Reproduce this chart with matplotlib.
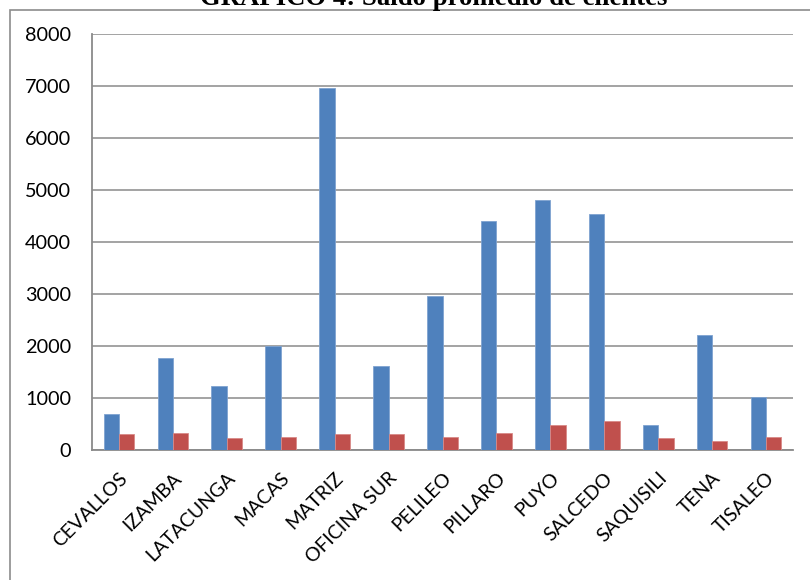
import matplotlib
matplotlib.use("Agg")
import matplotlib.pyplot as plt
import matplotlib.transforms as mtransforms
import numpy as np
from matplotlib.patches import Rectangle

categories = ["CEVALLOS", "IZAMBA", "LATACUNGA", "MACAS", "MATRIZ", "OFICINA SUR",
              "PELILEO", "PILLARO", "PUYO", "SALCEDO", "SAQUISILI", "TENA", "TISALEO"]
serie_1 = [690, 1770, 1230, 2000, 6955, 1615, 2960, 4400, 4800, 4530, 480, 2215, 1020]
serie_2 = [300, 335, 230, 245, 315, 315, 245, 325, 475, 560, 230, 180, 250]
y_ticks = [0, 1000, 2000, 3000, 4000, 5000, 6000, 7000, 8000]

W, H = 810, 580
fig = plt.figure(figsize=(W / 100, H / 100), dpi=100)
fig.patch.set_facecolor("white")

# chart frame
fig.patches.append(Rectangle((10 / W, -0.1), 1.2, 1 - 10 / H + 0.1,
                             transform=fig.transFigure, fill=False,
                             edgecolor="#8c8c8c", linewidth=1.2, zorder=0))

ax = fig.add_axes([92 / W, (H - 450) / H, (793 - 92) / W, (450 - 34) / H])

x = np.arange(len(categories))
bw = 0.285
ax.bar(x - bw / 2, serie_1, width=bw, color="#4F81BD", edgecolor="#7fa3d0",
       linewidth=0.6, zorder=3)
ax.bar(x + bw / 2, serie_2, width=bw, color="#C0504D", edgecolor="#d88a88",
       linewidth=0.6, zorder=3)

ax.set_xlim(-0.5, len(categories) - 0.5)
ax.set_ylim(0, 8000)
ax.set_yticks(y_ticks)
ax.set_yticklabels([str(v) for v in y_ticks], fontsize=14.3, family="Lato")
ax.yaxis.grid(True, color="#8a8a8a", linewidth=1.1, zorder=0)
ax.set_axisbelow(True)

ax.set_xticks(x)
ax.set_xticklabels(categories, rotation=45, ha="right", rotation_mode="anchor",
                   fontsize=14.0, family="Lato")
shift = mtransforms.ScaledTranslation(-3 / 100, 0, fig.dpi_scale_trans)
for lbl in ax.get_xticklabels():
    lbl.set_transform(lbl.get_transform() + shift)
ax.tick_params(axis="both", length=0)
ax.tick_params(axis="y", pad=15)
ax.tick_params(axis="x", pad=14)

for s in ["top", "right"]:
    ax.spines[s].set_visible(False)
for s in ["left", "bottom"]:
    ax.spines[s].set_color("#8a8a8a")
    ax.spines[s].set_linewidth(1.3)

fig.text(434 / W, 1 - 5 / H, "GRÁFICO 4: Saldo promedio de clientes",
         ha="center", va="baseline", family="Liberation Serif",
         fontweight="bold", fontsize=19.3)

fig.savefig("out.png", dpi=100)
